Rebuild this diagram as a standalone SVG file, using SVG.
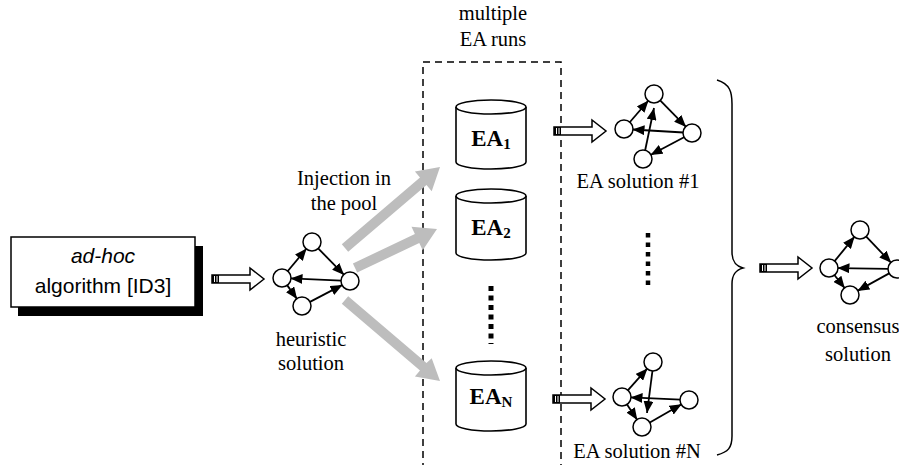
<svg xmlns="http://www.w3.org/2000/svg" xmlns:xlink="http://www.w3.org/1999/xlink" width="899" height="465" viewBox="0 0 899 465">
<style>
.serif{font-family:"Liberation Serif","Times New Roman",serif;font-size:20.5px;fill:#000;text-anchor:middle}
.sans{font-family:"Liberation Sans",Arial,sans-serif;font-size:21px;fill:#000;text-anchor:middle}
.ea{font-family:"Liberation Serif","Times New Roman",serif;font-weight:bold;font-size:23px;fill:#000;text-anchor:middle}
.node{fill:#fff;stroke:#000;stroke-width:1.5}
.edge{stroke:#000;stroke-width:1.8;fill:none;marker-end:url(#ah)}
.cyl{fill:#fff;stroke:#000;stroke-width:1.6}
.gray{fill:#bdbdbd;stroke:none}
.hollow{fill:#fff;stroke:#000;stroke-width:1.5}
</style>
<defs>
<marker id="ah" markerUnits="userSpaceOnUse" markerWidth="12" markerHeight="10" refX="12" refY="5" orient="auto">
<path d="M0,0 L12,5 L0,10 z" fill="#000"/>
</marker>
<g id="harrow">
<path class="hollow" d="M0,-4 H38 V-11 L52,0 L38,11 V4 H0 Z"/>
<rect x="0" y="-4" width="7" height="8" fill="#000"/>
<line x1="2.5" y1="-3" x2="2.5" y2="3" stroke="#fff" stroke-width="1"/>
<line x1="5" y1="-3" x2="5" y2="3" stroke="#fff" stroke-width="1"/>
</g>
</defs>

<g id="title">
<text class="serif" x="493" y="20">multiple</text>
<text class="serif" x="493" y="46">EA runs</text>
</g>

<g id="adhoc">
<rect x="18" y="246" width="185" height="70" fill="#000"/>
<rect x="11" y="237" width="184" height="70" fill="#fff" stroke="#000" stroke-width="1.5"/>
<text class="sans" x="103" y="263" font-style="italic">ad-hoc</text>
<text class="sans" x="103" y="293">algorithm [ID3]</text>
</g>

<g id="pool">
<path d="M423,470 V62 H561 V470" fill="none" stroke="#000" stroke-width="1.5" stroke-dasharray="7,5"/>
</g>

<g id="connectors">
<use xlink:href="#harrow" transform="translate(212,279)"/>
<use xlink:href="#harrow" transform="translate(554,131)"/>
<use xlink:href="#harrow" transform="translate(553,399)"/>
<use xlink:href="#harrow" transform="translate(760,268)"/>
<polygon class="gray" points="341.8,244.2 420.0,177.5 414.9,171.4 440,167 431.7,191.2 426.5,185.1 348.2,251.8"/>
<polygon class="gray" points="352.9,263.5 414.9,234.0 411.5,226.8 437,229 422.7,250.2 419.3,243.0 357.2,272.5"/>
<polygon class="gray" points="348.2,296.2 426.5,362.9 431.7,358.3 440,381 414.9,376.6 420.0,370.5 341.8,303.8"/>
<line x1="491" y1="286" x2="491" y2="344" stroke="#000" stroke-width="5" stroke-dasharray="5,4.5"/>
<line x1="648" y1="233" x2="648" y2="290" stroke="#000" stroke-width="4.5" stroke-dasharray="4.5,5"/>
<path d="M717,80 C730,84 732,92 732,104 V252 C732,262 736,266 743,268 C736,270 732,274 732,284 V436 C732,448 728,452 717,455" fill="none" stroke="#000" stroke-width="1.5"/>
</g>

<g id="injection-label">
<text class="serif" x="344" y="185">Injection in</text>
<text class="serif" x="344" y="210">the pool</text>
</g>

<g id="heuristic">
<line class="edge" x1="287.4" y1="271.5" x2="306.6" y2="248.5"/>
<line class="edge" x1="317.9" y1="248.1" x2="344.1" y2="274.9"/>
<line class="edge" x1="341.5" y1="280.6" x2="290.5" y2="278.4"/>
<line class="edge" x1="286.9" y1="284.9" x2="297.1" y2="299.1"/>
<line class="edge" x1="309.5" y1="302.1" x2="342.5" y2="284.9"/>
<circle class="node" cx="282" cy="278" r="9"/>
<circle class="node" cx="312" cy="242" r="9"/>
<circle class="node" cx="350" cy="281" r="9"/>
<circle class="node" cx="302" cy="306" r="9"/>
<text class="serif" x="311" y="346">heuristic</text>
<text class="serif" x="311" y="370">solution</text>
</g>

<g id="ea1">
<path class="cyl" d="M456,107 V162 A35,7 0 0 0 526,162 V107"/>
<ellipse class="cyl" cx="491" cy="107" rx="35" ry="7"/>
<text class="ea" x="491" y="146">EA<tspan font-size="15" dy="3">1</tspan></text>
</g>

<g id="ea2">
<path class="cyl" d="M456,196 V253 A35,7 0 0 0 526,253 V196"/>
<ellipse class="cyl" cx="491" cy="196" rx="35" ry="7"/>
<text class="ea" x="491" y="235">EA<tspan font-size="15" dy="3">2</tspan></text>
</g>

<g id="eaN">
<path class="cyl" d="M456,368 V424 A35,7 0 0 0 526,424 V368"/>
<ellipse class="cyl" cx="491" cy="368" rx="35" ry="7"/>
<text class="ea" x="491" y="404">EA<tspan font-size="15" dy="3">N</tspan></text>
</g>

<g id="sol1">
<line class="edge" x1="629.5" y1="122.5" x2="648.5" y2="100.5"/>
<line class="edge" x1="659.9" y1="100.1" x2="686.1" y2="126.9"/>
<line class="edge" x1="683.5" y1="132.5" x2="632.5" y2="129.5"/>
<line class="edge" x1="684.5" y1="137.0" x2="650.5" y2="155.0"/>
<line class="edge" x1="645" y1="151" x2="654" y2="108"/>
<circle class="node" cx="654" cy="94" r="9"/>
<circle class="node" cx="624" cy="129" r="9"/>
<circle class="node" cx="692" cy="133" r="9"/>
<circle class="node" cx="643" cy="159" r="9"/>
<text class="serif" x="638" y="188">EA solution #1</text>
</g>

<g id="solN">
<line class="edge" x1="627.6" y1="390.6" x2="647.4" y2="368.4"/>
<line class="edge" x1="652.5" y1="370.5" x2="647" y2="413"/>
<line class="edge" x1="680.5" y1="399.6" x2="630.5" y2="397.4"/>
<line class="edge" x1="626.7" y1="404.1" x2="637.3" y2="419.9"/>
<line class="edge" x1="649.4" y1="422.8" x2="681.6" y2="404.2"/>
<circle class="node" cx="653" cy="362" r="9"/>
<circle class="node" cx="622" cy="397" r="9"/>
<circle class="node" cx="689" cy="400" r="9"/>
<circle class="node" cx="642" cy="427" r="9"/>
<text class="serif" x="637" y="458">EA solution #N</text>
</g>

<g id="consensus">
<line class="edge" x1="834.4" y1="261.4" x2="854.6" y2="236.6"/>
<line class="edge" x1="865.8" y1="236.2" x2="891.2" y2="262.8"/>
<line class="edge" x1="888.5" y1="268.9" x2="837.5" y2="268.1"/>
<line class="edge" x1="834.2" y1="274.7" x2="844.8" y2="288.3"/>
<line class="edge" x1="889.6" y1="273.1" x2="857.4" y2="290.9"/>
<circle class="node" cx="860" cy="230" r="9"/>
<circle class="node" cx="829" cy="268" r="9"/>
<circle class="node" cx="897" cy="269" r="9"/>
<circle class="node" cx="850" cy="295" r="9"/>
<text class="serif" x="858" y="333">consensus</text>
<text class="serif" x="858" y="361">solution</text>
</g>
</svg>
